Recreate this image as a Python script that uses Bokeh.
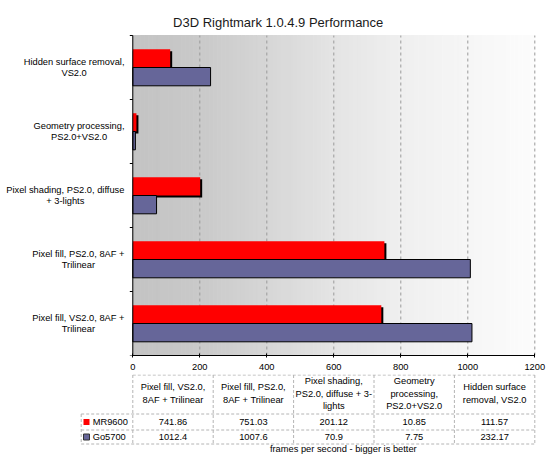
import numpy as np
from bokeh.plotting import figure
from bokeh.layouts import column
from bokeh.models import Range1d, FixedTicker
from bokeh.embed import file_html
from bokeh.resources import INLINE
from bokeh.core.properties import value

# ---------------- data ----------------
title_text = "D3D Rightmark 1.0.4.9 Performance"
footer_text = "frames per second - bigger is better"
categories = [
    "Pixel fill, VS2.0, 8AF + Trilinear",
    "Pixel fill, PS2.0, 8AF + Trilinear",
    "Pixel shading, PS2.0, diffuse + 3-lights",
    "Geometry processing, PS2.0+VS2.0",
    "Hidden surface removal, VS2.0",
]
axis_labels = [
    "Pixel fill, VS2.0, 8AF +\nTrilinear",
    "Pixel fill, PS2.0, 8AF +\nTrilinear",
    "Pixel shading, PS2.0, diffuse\n+ 3-lights",
    "Geometry processing,\nPS2.0+VS2.0",
    "Hidden surface removal,\nVS2.0",
]
table_headers = [
    "Pixel fill, VS2.0,\n8AF + Trilinear",
    "Pixel fill, PS2.0,\n8AF + Trilinear",
    "Pixel shading,\nPS2.0, diffuse + 3-\nlights",
    "Geometry\nprocessing,\nPS2.0+VS2.0",
    "Hidden surface\nremoval, VS2.0",
]
series_names = ["MR9600", "Go5700"]
mr9600 = [741.86, 751.03, 201.12, 10.85, 111.57]
go5700 = [1012.4, 1007.6, 70.9, 7.75, 232.17]
x_ticks = [0, 200, 400, 600, 800, 1000, 1200]

# ---------------- style / layout ----------------
FONT = "Liberation Sans"
FS_PX = 9.3
FS = "%gpx" % FS_PX
RED = "#ff0000"
BLUE = "#666699"
XMAX = 1200
W = 548
PX = 402 / XMAX                      # pixels per x unit
X0 = -132.3 / PX                     # canvas spans full width
X1 = XMAX + (W - 534.3) / PX
n = len(categories)
CAT_PX = 64.0                        # pixels per category
centers = [i + 0.5 for i in range(n)]
BAR_H = 0.286
TOP_PAD = 35 / CAT_PX
LINE_H = 11.7 / CAT_PX

# Arial / Liberation Sans advance widths (1/1000 em) for text centring
AW = {' ': 278, ',': 278, '.': 278, '+': 584, '-': 333, 'A': 667, 'F': 611, 'G': 778,
      'H': 722, 'P': 667, 'S': 667, 'T': 611, 'V': 667, 'a': 556, 'c': 500, 'd': 556,
      'e': 556, 'f': 278, 'g': 556, 'h': 556, 'i': 222, 'l': 222, 'm': 833, 'n': 556,
      'o': 556, 'p': 556, 'r': 333, 's': 500, 't': 278, 'u': 556, 'v': 500, 'x': 500,
      'y': 500}


def text_px(s):
    return sum(AW.get(ch, 556) for ch in s) * FS_PX / 1000


TXT = dict(text_font=value(FONT), text_font_size=FS, text_color="black")

# ---------------- chart ----------------
p = figure(width=W, height=374, x_range=Range1d(X0, X1), y_range=Range1d(0, n + TOP_PAD),
           y_axis_type=None, output_backend="svg", toolbar_location=None,
           min_border_left=0, min_border_right=0, min_border_top=0, min_border_bottom=19)
p.outline_line_color = None
p.background_fill_color = "white"
p.border_fill_color = "white"
p.grid.visible = False

# title
p.text(x=[(277.7 - 132.3) / PX], y=[n + TOP_PAD - 21.5 / CAT_PX], text=[title_text],
       text_font=value(FONT), text_font_size="13px", text_color="#1a1a1a",
       text_align="center", text_baseline="middle")

# gradient background (decoration)
stops_x = [0, 200, 400, 600, 800, 1000, 1200]
stops_v = [195, 201, 214, 228, 239, 246, 252]
nstrip = 100
edges = np.linspace(0, XMAX, nstrip + 1)
mids = (edges[:-1] + edges[1:]) / 2
shade = np.interp(mids, stops_x, stops_v).round().astype(int)
cols = ["#%02x%02x%02x" % (s, s, s) for s in shade]
p.quad(left=edges[:-1], right=edges[1:], bottom=0, top=n, fill_color=cols, line_color=cols, line_width=1)

# dashed grid lines
gx = x_ticks[1:]
p.segment(x0=gx, y0=[0] * len(gx), x1=gx, y1=[n] * len(gx),
          line_color="#9a9a9a", line_dash="3 3", line_width=1)

# bars
red_y = [c + BAR_H / 2 for c in centers]
blue_y = [c - BAR_H / 2 for c in centers]
p.hbar(y=[y - 2 / CAT_PX for y in red_y], left=0, right=[v + 2 / PX for v in mr9600],
       height=BAR_H, fill_color="black", line_color=None)
p.hbar(y=red_y, left=0, right=mr9600, height=BAR_H, fill_color=RED, line_color=None)
p.hbar(y=blue_y, left=0, right=go5700, height=BAR_H, fill_color=BLUE,
       line_color="black", line_width=1)

# y axis (drawn at x = 0)
p.segment(x0=[0], y0=[0], x1=[0], y1=[n], line_color="black", line_width=1)
bnd = list(range(n + 1))
p.segment(x0=[-3 / PX] * len(bnd), y0=bnd, x1=[0] * len(bnd), y1=bnd, line_color="black", line_width=1)
lab_x, lab_y, lab_t = [], [], []
right_edge = -8.3 / PX
for c, lab in zip(centers, axis_labels):
    lines = lab.split("\n")
    wmax = max(text_px(s) for s in lines)
    for j, s in enumerate(lines):
        lab_x.append(right_edge - wmax / 2 / PX)
        lab_y.append(c + ((len(lines) - 1) / 2 - j) * LINE_H)
        lab_t.append(s)
p.text(x=lab_x, y=lab_y, text=lab_t, text_align="center", text_baseline="middle", **TXT)

# x axis
xa = p.xaxis[0]
xa.bounds = (0, XMAX)
xa.ticker = FixedTicker(ticks=x_ticks)
xa.major_tick_in = 2
xa.major_tick_out = 2
xa.minor_tick_in = 0
xa.minor_tick_out = 0
xa.major_label_standoff = 6
xa.major_label_text_font = FONT
xa.major_label_text_font_size = FS
xa.major_label_text_color = "black"
xa.axis_line_color = "black"

# ---------------- data table ----------------
TH = 88
t = figure(width=W, height=TH, x_range=Range1d(X0, X1), y_range=Range1d(TH, 0),
           x_axis_type=None, y_axis_type=None, output_backend="svg", toolbar_location=None,
           min_border_left=0, min_border_right=0, min_border_top=0, min_border_bottom=0)
t.outline_line_color = None
t.grid.visible = False

col_w = XMAX / n
col_edges = [i * col_w for i in range(n + 1)]
col_mid = [(i + 0.5) * col_w for i in range(n)]
leg_left = -(132.3 - 80.7) / PX
y_head_top, y_head_bot, y_r1_bot, y_r2_bot = 0.5, 39.5, 55.5, 69.5
r1_mid = (y_head_bot + y_r1_bot) / 2
r2_mid = (y_r1_bot + y_r2_bot) / 2
DASH = dict(line_color="#b4b4b4", line_dash="3 2", line_width=1)

t.segment(x0=col_edges, y0=[y_head_top] * len(col_edges), x1=col_edges,
          y1=[y_r2_bot] * len(col_edges), **DASH)
t.segment(x0=[leg_left], y0=[y_head_bot], x1=[leg_left], y1=[y_r2_bot], **DASH)
t.segment(x0=[0], y0=[y_head_top], x1=[XMAX], y1=[y_head_top], **DASH)
t.segment(x0=[leg_left] * 3, y0=[y_head_bot, y_r1_bot, y_r2_bot],
          x1=[XMAX] * 3, y1=[y_head_bot, y_r1_bot, y_r2_bot], **DASH)

hx, hy, ht = [], [], []
head_mid = (y_head_top + y_head_bot) / 2 - 1
for xm, lab in zip(col_mid, table_headers):
    lines = lab.split("\n")
    for j, s in enumerate(lines):
        hx.append(xm)
        hy.append(head_mid + (j - (len(lines) - 1) / 2) * 12.3)
        ht.append(s)
t.text(x=hx, y=hy, text=ht, text_align="center", text_baseline="middle", **TXT)
t.text(x=col_mid, y=[r1_mid] * n, text=[str(v) for v in mr9600],
       text_align="center", text_baseline="middle", **TXT)
t.text(x=col_mid, y=[r2_mid] * n, text=[str(v) for v in go5700],
       text_align="center", text_baseline="middle", **TXT)

sq_x = leg_left + 5.3 / PX
t.scatter(x=[sq_x], y=[r1_mid], marker="square", size=6, fill_color=RED, line_color=None)
t.scatter(x=[sq_x], y=[r2_mid], marker="square", size=6, fill_color=BLUE, line_color="#333333")
t.text(x=[leg_left + 11.5 / PX] * 2, y=[r1_mid, r2_mid], text=series_names,
       text_align="left", text_baseline="middle", **TXT)

t.text(x=[(342.8 - 132.3) / PX], y=[74.3], text=[footer_text],
       text_align="center", text_baseline="middle", **TXT)

layout = column(p, t, spacing=0)
open("out.html", "w").write(file_html(layout, INLINE))
